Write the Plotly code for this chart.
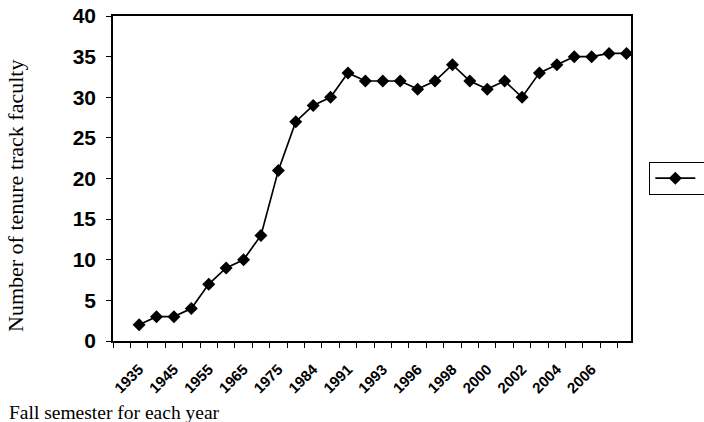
import plotly.graph_objects as go

# Data (one point per fall semester, labelled every other point)
faculty_counts = [2, 3, 3, 4, 7, 9, 10, 13, 21, 27, 29, 30, 33, 32,
                  32, 32, 31, 32, 34, 32, 31, 32, 30, 33, 34, 35, 35, 35.4, 35.4]
tick_labels = ["1935", "1945", "1955", "1965", "1975", "1984", "1991",
               "1993", "1996", "1998", "2000", "2002", "2004", "2006"]

n = len(faculty_counts)
x_idx = list(range(n))

fig = go.Figure()
fig.add_trace(go.Scatter(
    x=x_idx, y=faculty_counts, mode="lines+markers",
    name="\u00a0" * 12,
    line=dict(color="black", width=1.7),
    marker=dict(symbol="diamond", size=10, color="black"),
    showlegend=True,
))

label_pos = [2 * k for k in range(len(tick_labels))]
minor_pos = [i - 0.5 for i in range(-1, n + 1)]

fig.update_layout(
    width=704, height=422,
    margin=dict(l=113, r=73, t=16, b=81, autoexpand=False),
    paper_bgcolor="white", plot_bgcolor="white",
    showlegend=True,
    legend=dict(x=1.035, xanchor="left", y=0.5, yanchor="middle",
                bordercolor="black", borderwidth=1.2,
                font=dict(family="Liberation Serif", size=13, color="black"),
                itemwidth=40),
    xaxis=dict(
        range=[-1.5, 28.26], showline=True, linecolor="black", linewidth=1.6,
        mirror=True, showgrid=False, zeroline=False,
        tickmode="array", tickvals=label_pos, ticktext=tick_labels,
        ticks="", tickangle=-45, ticklabelstandoff=12,
        tickfont=dict(family="Liberation Sans", size=15, color="black", weight="bold"),
        minor=dict(tickmode="array", tickvals=minor_pos, ticks="outside",
                   ticklen=5, tickwidth=1.2, tickcolor="black", showgrid=False),
    ),
    yaxis=dict(
        range=[0, 40], dtick=5, showline=True, linecolor="black", linewidth=1.6,
        mirror=True, showgrid=False, zeroline=False,
        ticks="outside", ticklen=5, tickwidth=1.2, tickcolor="black",
        ticklabelstandoff=6,
        tickfont=dict(family="Liberation Sans", size=21, color="black", weight="bold"),
    ),
    annotations=[
        dict(text="Number of tenure track faculty", xref="paper", yref="paper",
             x=(15 - 113) / 518, y=(341 - 196) / 325, xanchor="center", yanchor="middle",
             textangle=-90, showarrow=False,
             font=dict(family="Liberation Serif", size=22, color="black")),
        dict(text="Fall semester for each year", xref="paper", yref="paper",
             x=(7 - 113) / 518, y=(341 - 400) / 325, xanchor="left", yanchor="top",
             showarrow=False,
             font=dict(family="Liberation Serif", size=19.5, color="black")),
    ],
)

fig.write_html("out.html", config={"displayModeBar": False},
               post_script="document.body.style.margin='0';document.body.style.padding='0';")
